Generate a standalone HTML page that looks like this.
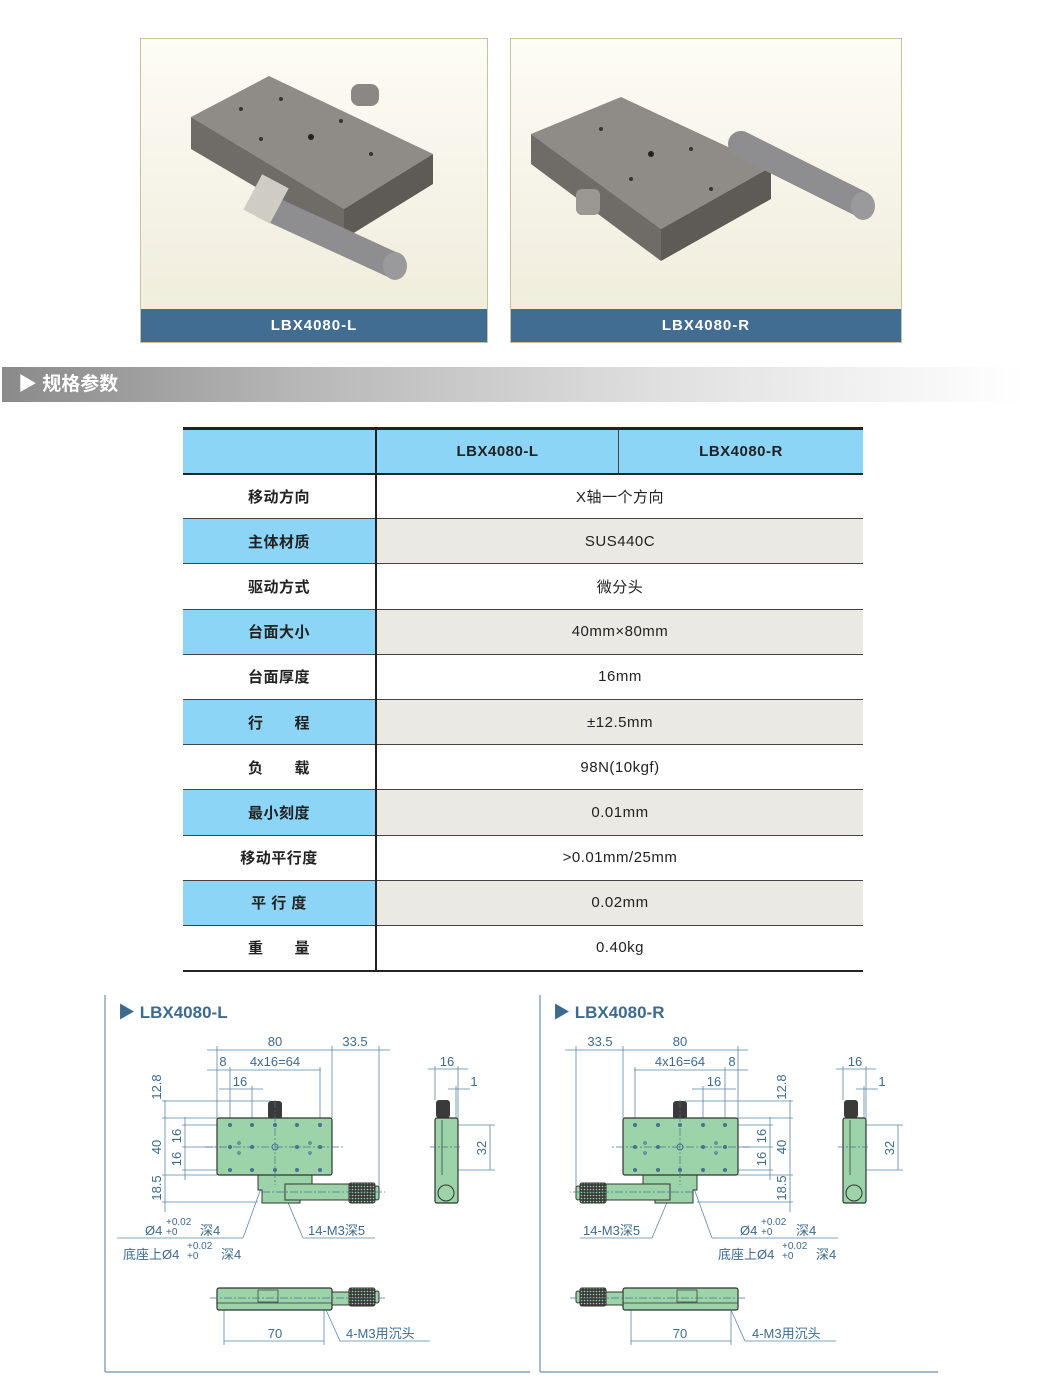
<!DOCTYPE html>
<html><head><meta charset="utf-8"><style>
*{margin:0;padding:0;box-sizing:border-box}
body{width:1041px;height:1394px;background:#fff;position:relative;overflow:hidden;font-family:"Liberation Sans","Noto Sans CJK SC",sans-serif}
.ph{position:absolute;top:38px;height:305px;border:1px solid #c9c29a;background:linear-gradient(#fdfcf6,#eeebd9)}
.ph .lb{position:absolute;left:0;right:0;bottom:0;height:33px;background:#426d92;color:#fff;font-weight:bold;font-size:15px;letter-spacing:1px;text-align:center;line-height:33px}
.ban{position:absolute;left:2px;top:367px;width:1020px;height:35px;background:linear-gradient(90deg,#8a8a8a,#b8b8b8 30%,#e0e0e0 65%,#fff);color:#fff;font-weight:bold;font-size:19px;line-height:35px;padding-left:16px}
table{position:absolute;left:183px;top:427px;width:680px;border-collapse:collapse;font-size:15px;color:#222}
td{height:45.2px;text-align:center;border-bottom:1px solid #444;letter-spacing:0.5px}
td.k{width:193px;font-weight:bold;border-right:2px solid #222}
tr.h td{background:#8dd5f6;font-weight:bold;border-top:3px solid #222;border-bottom:2px solid #222;height:45px}
tr.b td.k{background:#8dd5f6}
tr.b td.v{background:#ebe9e3}
tr:last-child td{border-bottom:2px solid #222}
</style></head><body>

<div class="ph" style="left:140px;width:348px">
<svg width="346" height="272" viewBox="0 0 346 272">
<polygon points="50,78 128,37 292,115 203,170" fill="#8f8b86"/>
<polygon points="50,78 203,170 203,200 50,110" fill="#6f6c68"/>
<polygon points="203,170 292,115 292,145 203,200" fill="#5e5b57"/>
<rect x="210" y="45" width="28" height="22" rx="8" fill="#8a8784"/>
<line x1="130" y1="170" x2="252" y2="226" stroke="#8e8e90" stroke-width="26" stroke-linecap="round"/>
<ellipse cx="254" cy="227" rx="12" ry="14" fill="#9a9a9c"/>
<rect x="110" y="140" width="30" height="40" fill="#cfccc4" transform="rotate(28 125 160)"/>
<circle cx="170" cy="98" r="3" fill="#222"/><circle cx="100" cy="70" r="2" fill="#333"/><circle cx="140" cy="60" r="2" fill="#333"/><circle cx="200" cy="82" r="2" fill="#333"/><circle cx="230" cy="115" r="2" fill="#333"/><circle cx="120" cy="100" r="2" fill="#333"/>
</svg>
<div class="lb">LBX4080-L</div></div>

<div class="ph" style="left:510px;width:392px">
<svg width="390" height="272" viewBox="0 0 390 272">
<polygon points="20,95 110,58 260,128 150,190" fill="#8f8b86"/>
<polygon points="20,95 150,190 150,222 20,125" fill="#6f6c68"/>
<polygon points="150,190 260,128 260,160 150,222" fill="#5e5b57"/>
<line x1="230" y1="105" x2="350" y2="165" stroke="#8e8e90" stroke-width="26" stroke-linecap="round"/>
<ellipse cx="352" cy="167" rx="12" ry="14" fill="#9a9a9c"/>
<circle cx="140" cy="115" r="3" fill="#222"/><circle cx="90" cy="90" r="2" fill="#333"/><circle cx="180" cy="110" r="2" fill="#333"/><circle cx="120" cy="140" r="2" fill="#333"/><circle cx="200" cy="150" r="2" fill="#333"/>
<rect x="65" y="150" width="24" height="26" rx="6" fill="#9b9894"/>
</svg>
<div class="lb">LBX4080-R</div></div>

<div class="ban">▶ 规格参数</div>

<table>
<tr class="h"><td class="k"></td><td style="border-right:1px solid #444">LBX4080-L</td><td>LBX4080-R</td></tr>
<tr><td class="k">移动方向</td><td class="v" colspan="2">X轴一个方向</td></tr>
<tr class="b"><td class="k">主体材质</td><td class="v" colspan="2">SUS440C</td></tr>
<tr><td class="k">驱动方式</td><td class="v" colspan="2">微分头</td></tr>
<tr class="b"><td class="k">台面大小</td><td class="v" colspan="2">40mm×80mm</td></tr>
<tr><td class="k">台面厚度</td><td class="v" colspan="2">16mm</td></tr>
<tr class="b"><td class="k">行　　程</td><td class="v" colspan="2">±12.5mm</td></tr>
<tr><td class="k">负　　载</td><td class="v" colspan="2">98N(10kgf)</td></tr>
<tr class="b"><td class="k">最小刻度</td><td class="v" colspan="2">0.01mm</td></tr>
<tr><td class="k">移动平行度</td><td class="v" colspan="2">&gt;0.01mm/25mm</td></tr>
<tr class="b"><td class="k">平 行 度</td><td class="v" colspan="2">0.02mm</td></tr>
<tr><td class="k">重　　量</td><td class="v" colspan="2">0.40kg</td></tr>
</table>

<svg style="position:absolute;left:0;top:0" width="1041" height="1394" viewBox="0 0 1041 1394">
<defs>
<pattern id="kn" width="3" height="3" patternUnits="userSpaceOnUse"><rect width="3" height="3" fill="#3a3a3a"/><circle cx="1.5" cy="1.5" r="0.8" fill="#9fd0a6"/></pattern>
<g id="main">
 <g stroke="#5a86aa" stroke-width="0.8" fill="none">
  <line x1="207" y1="1050" x2="390" y2="1050"/>
  <line x1="217" y1="1046" x2="217" y2="1118"/><line x1="332" y1="1046" x2="332" y2="1118"/><line x1="379" y1="1046" x2="379" y2="1192"/>
  <line x1="207" y1="1070" x2="321" y2="1070"/>
  <line x1="230" y1="1067" x2="230" y2="1125"/><line x1="320" y1="1067" x2="320" y2="1125"/>
  <line x1="219" y1="1089" x2="263" y2="1089"/><line x1="252" y1="1086" x2="252" y2="1125"/>
  <line x1="165" y1="1100" x2="165" y2="1212"/>
  <line x1="162" y1="1101" x2="270" y2="1101"/><line x1="162" y1="1118" x2="217" y2="1118"/><line x1="162" y1="1175" x2="217" y2="1175"/><line x1="162" y1="1202" x2="258" y2="1202"/>
  <line x1="185" y1="1117" x2="185" y2="1180"/>
  <line x1="182" y1="1125" x2="217" y2="1125"/><line x1="182" y1="1147" x2="217" y2="1147"/><line x1="182" y1="1170" x2="217" y2="1170"/>
  <line x1="117" y1="1238" x2="243" y2="1238"/><line x1="243" y1="1238" x2="275" y2="1150"/>
  <line x1="303" y1="1238" x2="375" y2="1238"/><line x1="303" y1="1238" x2="287" y2="1200"/>
  <line x1="224" y1="1305" x2="224" y2="1345"/><line x1="324" y1="1305" x2="324" y2="1345"/>
  <line x1="224" y1="1341" x2="324" y2="1341"/>
 </g>
 <rect x="268" y="1101" width="14" height="18" rx="3" fill="#3a3a3a"/>
 <path d="M258 1175 H312 V1190 H300 V1203 H262 V1190 H258Z" fill="#9dd3a9" stroke="#333"/>
 <rect x="285" y="1184" width="64" height="16" fill="#9dd3a9" stroke="#333"/>
 <rect x="349" y="1183" width="26" height="20" rx="2" fill="url(#kn)" stroke="#333"/>
 <rect x="375" y="1186" width="4" height="14" rx="2" fill="#9dd3a9" stroke="#333"/>
 <rect x="217" y="1118" width="115" height="57" rx="2" fill="#9dd3a9" stroke="#333" stroke-width="1.2"/>
 <g fill="#4a7090">
  <circle cx="230" cy="1125" r="2"/><circle cx="252" cy="1125" r="2"/><circle cx="275" cy="1125" r="2"/><circle cx="297" cy="1125" r="2"/><circle cx="320" cy="1125" r="2"/>
  <circle cx="230" cy="1147" r="2"/><circle cx="252" cy="1147" r="2"/><circle cx="297" cy="1147" r="2"/><circle cx="320" cy="1147" r="2"/>
  <circle cx="230" cy="1170" r="2"/><circle cx="252" cy="1170" r="2"/><circle cx="275" cy="1170" r="2"/><circle cx="297" cy="1170" r="2"/><circle cx="320" cy="1170" r="2"/>
 </g>
 <g fill="none" stroke="#4a7090"><circle cx="275" cy="1147" r="3"/><circle cx="239" cy="1143" r="1.2"/><circle cx="239" cy="1153" r="1.2"/><circle cx="310" cy="1143" r="1.2"/><circle cx="310" cy="1153" r="1.2"/></g>
 <g stroke="#4a7090" stroke-width="0.7" stroke-dasharray="8 2 2 2"><line x1="205" y1="1147" x2="345" y2="1147"/><line x1="275" y1="1100" x2="275" y2="1185"/><line x1="262" y1="1192" x2="385" y2="1192"/></g>
 <rect x="217" y="1288" width="115" height="22" rx="2" fill="#9dd3a9" stroke="#333" stroke-width="1.2"/>
 <line x1="217" y1="1303" x2="332" y2="1303" stroke="#333" stroke-width="0.7"/>
 <rect x="258" y="1290" width="20" height="12" fill="none" stroke="#333" stroke-width="0.7"/>
 <rect x="332" y="1292" width="17" height="13" fill="#9dd3a9" stroke="#333"/>
 <rect x="349" y="1288" width="26" height="18" rx="2" fill="url(#kn)" stroke="#333"/>
 <rect x="375" y="1291" width="4" height="12" rx="2" fill="#9dd3a9" stroke="#333"/>
 <line x1="210" y1="1298" x2="385" y2="1298" stroke="#4a7090" stroke-width="0.7" stroke-dasharray="8 2 2 2"/>
</g>
<g id="side">
 <g stroke="#5a86aa" stroke-width="0.8" fill="none">
  <line x1="428" y1="1069" x2="468" y2="1069"/><line x1="435" y1="1066" x2="435" y2="1100"/><line x1="458" y1="1066" x2="458" y2="1118"/>
  <line x1="448" y1="1089" x2="470" y2="1089"/><line x1="456" y1="1086" x2="456" y2="1118"/>
  <line x1="490" y1="1125" x2="490" y2="1170"/><line x1="458" y1="1125" x2="495" y2="1125"/><line x1="458" y1="1170" x2="495" y2="1170"/>
 </g>
 <rect x="436" y="1100" width="14" height="18" rx="3" fill="#3a3a3a"/>
 <rect x="435" y="1118" width="23" height="85" rx="2" fill="#9dd3a9" stroke="#333" stroke-width="1.2"/>
 <line x1="442" y1="1120" x2="442" y2="1175" stroke="#333" stroke-width="0.7"/>
 <circle cx="446" cy="1193" r="8" fill="#9dd3a9" stroke="#333"/>
 <line x1="430" y1="1147" x2="462" y2="1147" stroke="#4a7090" stroke-width="0.7" stroke-dasharray="6 2 2 2"/>
</g>
</defs>
<g stroke="#6f8fae" stroke-width="1.2"><line x1="105" y1="995" x2="105" y2="1372"/><line x1="105" y1="1372" x2="530" y2="1372"/><line x1="540" y1="995" x2="540" y2="1372"/><line x1="540" y1="1372" x2="938" y2="1372"/></g>
<use href="#main"/><use href="#side"/>
<use href="#main" transform="translate(955,0) scale(-1,1)"/><use href="#side" transform="translate(408,0)"/>
<g stroke="#5a86aa" stroke-width="0.8" fill="none">
 <polyline points="326,1310 340,1341 430,1341"/>
 <polyline points="731,1310 745,1341 836,1341"/>
</g>
<g fill="#3d6a8f" font-family="Liberation Sans, Noto Sans CJK SC, sans-serif" font-size="13">
 <text x="118" y="1018" font-size="17" font-weight="bold">▶ LBX4080-L</text>
 <text x="553" y="1018" font-size="17" font-weight="bold">▶ LBX4080-R</text>
 <g text-anchor="middle">
  <text x="275" y="1046">80</text><text x="355" y="1046">33.5</text><text x="223" y="1066">8</text><text x="275" y="1066">4x16=64</text><text x="240" y="1086">16</text>
  <text x="447" y="1066">16</text><text x="474" y="1086">1</text>
  <text x="275" y="1338">70</text>
  <text x="680" y="1046">80</text><text x="600" y="1046">33.5</text><text x="732" y="1066">8</text><text x="680" y="1066">4x16=64</text><text x="714" y="1086">16</text>
  <text x="855" y="1066">16</text><text x="882" y="1086">1</text>
  <text x="680" y="1338">70</text>
 </g>
 <g text-anchor="middle">
  <text transform="translate(161,1087) rotate(-90)">12.8</text><text transform="translate(161,1147) rotate(-90)">40</text><text transform="translate(161,1188) rotate(-90)">18.5</text>
  <text transform="translate(181,1136) rotate(-90)">16</text><text transform="translate(181,1159) rotate(-90)">16</text>
  <text transform="translate(486,1148) rotate(-90)">32</text>
  <text transform="translate(786,1087) rotate(-90)">12.8</text><text transform="translate(786,1147) rotate(-90)">40</text><text transform="translate(786,1188) rotate(-90)">18.5</text>
  <text transform="translate(766,1136) rotate(-90)">16</text><text transform="translate(766,1159) rotate(-90)">16</text>
  <text transform="translate(894,1148) rotate(-90)">32</text>
 </g>
 <text x="145" y="1235">Ø4</text><text x="166" y="1225" font-size="10">+0.02</text><text x="166" y="1235" font-size="10">+0</text><text x="200" y="1235">深4</text>
 <text x="123" y="1259">底座上Ø4</text><text x="187" y="1249" font-size="10">+0.02</text><text x="187" y="1259" font-size="10">+0</text><text x="221" y="1259">深4</text>
 <text x="308" y="1235">14-M3深5</text>
 <text x="346" y="1338">4-M3用沉头</text>
 <text x="583" y="1235">14-M3深5</text>
 <text x="740" y="1235">Ø4</text><text x="761" y="1225" font-size="10">+0.02</text><text x="761" y="1235" font-size="10">+0</text><text x="796" y="1235">深4</text>
 <text x="718" y="1259">底座上Ø4</text><text x="782" y="1249" font-size="10">+0.02</text><text x="782" y="1259" font-size="10">+0</text><text x="816" y="1259">深4</text>
 <text x="752" y="1338">4-M3用沉头</text>
</g>
</svg>
</body></html>
